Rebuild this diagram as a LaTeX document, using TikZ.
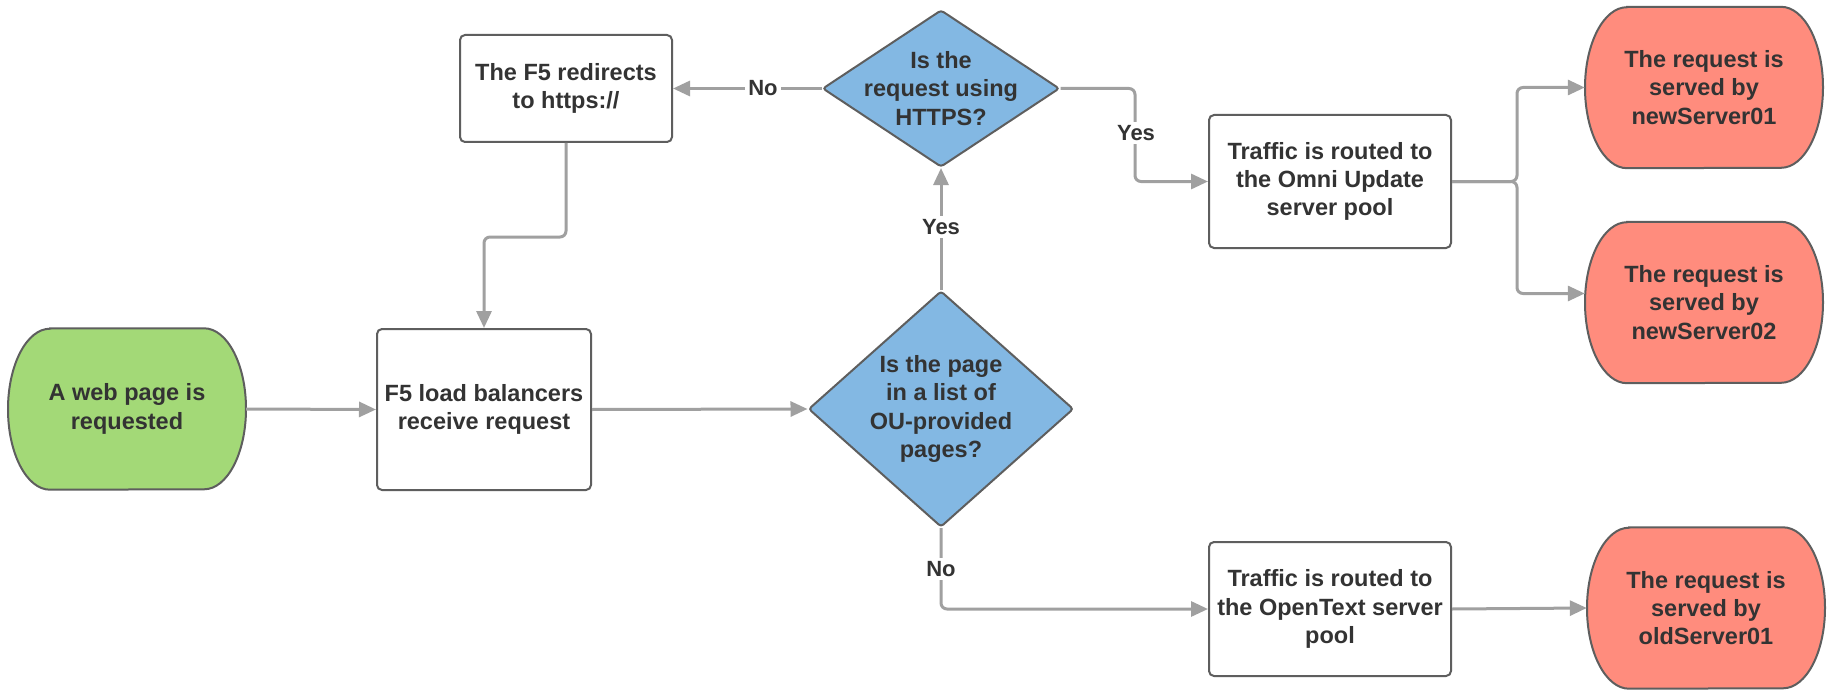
\documentclass[tikz,border=0pt]{standalone}
\usepackage{fontspec}
\setmainfont{Liberation Sans}
\usetikzlibrary{shapes.geometric,arrows.meta,backgrounds}
\definecolor{bordergray}{HTML}{5E5E5E}
\definecolor{linegray}{HTML}{A0A0A0}
\definecolor{textgray}{HTML}{333333}
\definecolor{termgreen}{HTML}{A3D977}
\definecolor{decblue}{HTML}{83B8E3}
\definecolor{termred}{HTML}{FF8C7D}
\newcommand\termoutline[2]{%
  \path[draw=bordergray, line width=2pt, fill=#2]
    ([xshift=-77pt]#1.north) -- ([xshift=77pt]#1.north)
    arc[start angle=90, end angle=-90, x radius=42pt, y radius=80.5pt]
    -- ([xshift=-77pt]#1.south)
    arc[start angle=270, end angle=90, x radius=42pt, y radius=80.5pt] -- cycle;}
\tikzset{
  base/.style={font=\fontsize{23.5}{28.3}\selectfont\bfseries, text=textgray, align=center, inner sep=0pt},
  term/.style={base, minimum width=238pt, minimum height=161pt},
  procbox/.style={base, draw=bordergray, line width=2pt, fill=white, rounded corners=5pt},
  decision/.style={diamond, draw=bordergray, line width=2pt, fill=decblue, inner sep=0pt, rounded corners=3pt},
  dtext/.style={base},
  conn/.style={draw=linegray, line width=3pt, -{Triangle[length=17pt,width=15pt]}, rounded corners=6pt},
  lbl/.style={font=\fontsize{22}{26}\selectfont\bfseries, text=textgray, fill=white, inner sep=3pt},
}
\begin{document}
\begin{tikzpicture}[x=1pt, y=-1pt]
\useasboundingbox (0,0) rectangle (1829,690);
\begin{pgfonlayer}{background}
  \fill[white] (0,0) rectangle (1829,690);
\end{pgfonlayer}

% nodes
\node[term] (start) at (127,409) {A web page is\\requested};
\node[procbox, minimum width=214pt, minimum height=161pt] (f5) at (484,409.5) {F5 load balancers\\receive request};
\node[procbox, minimum width=212pt, minimum height=107pt] (redir) at (566,88.5) {The F5 redirects\\to https://};
\node[decision, minimum width=237pt, minimum height=157pt] (d2) at (941,88.5) {};
\node[dtext] (d2t) at (d2) {Is the\\request using\\HTTPS?};
\node[decision, minimum width=265pt, minimum height=236pt] (d1) at (941,409) {};
\node[dtext] (d1t) at (d1) {Is the page\\in a list of\\OU-provided\\pages?};
\node[procbox, minimum width=242pt, minimum height=133pt] (omni) at (1330,181.5) {Traffic is routed to\\the Omni Update\\server pool};
\node[procbox, minimum width=242pt, minimum height=134pt] (opentext) at (1330,609) {Traffic is routed to\\the OpenText server\\pool};
\node[term] (red1) at (1704,87.5) {The request is\\served by\\newServer01};
\node[term] (red2) at (1704,302.5) {The request is\\served by\\newServer02};
\node[term] (red3) at (1706,608) {The request is\\served by\\oldServer01};

\begin{pgfonlayer}{background}
  \termoutline{start}{termgreen}
  \termoutline{red1}{termred}
  \termoutline{red2}{termred}
  \termoutline{red3}{termred}
\end{pgfonlayer}

% helper coordinates
\coordinate (rb) at (0,237);
\coordinate (yb) at (1135,0);
\coordinate (sp) at (1517,0);
\coordinate (r2in) at ([yshift=9pt]red2.west);

% connectors
\draw[conn] (start.east) -- (f5.west);
\draw[conn] (f5.east) -- (d1.west);
\draw[conn] (d1.north) -- (d2.south);
\draw[conn] (d2.west) -- (redir.east);
\draw[conn] (redir.south) -- (redir.south |- rb) -- (f5.north |- rb) -- (f5.north);
\draw[conn] (d2.east) -- (d2.east -| yb) -- (yb |- omni.west) -- (omni.west);
\draw[conn] (d1.south) -- (d1.south |- opentext.west) -- (opentext.west);
\draw[conn] (omni.east) -- (omni.east -| sp) -- (sp |- red1.west) -- (red1.west);
\draw[conn] (omni.east) -- (omni.east -| sp) -- (sp |- r2in) -- (r2in);
\draw[conn] (opentext.east) -- (red3.west);

% labels
\node[lbl] (yes1) at (941,227) {Yes};
\node[lbl] (no1) at (763,88) {No};
\node[lbl] (yes2) at (1136,133) {Yes};
\node[lbl] (no2) at (941,569) {No};
\end{tikzpicture}
\end{document}
